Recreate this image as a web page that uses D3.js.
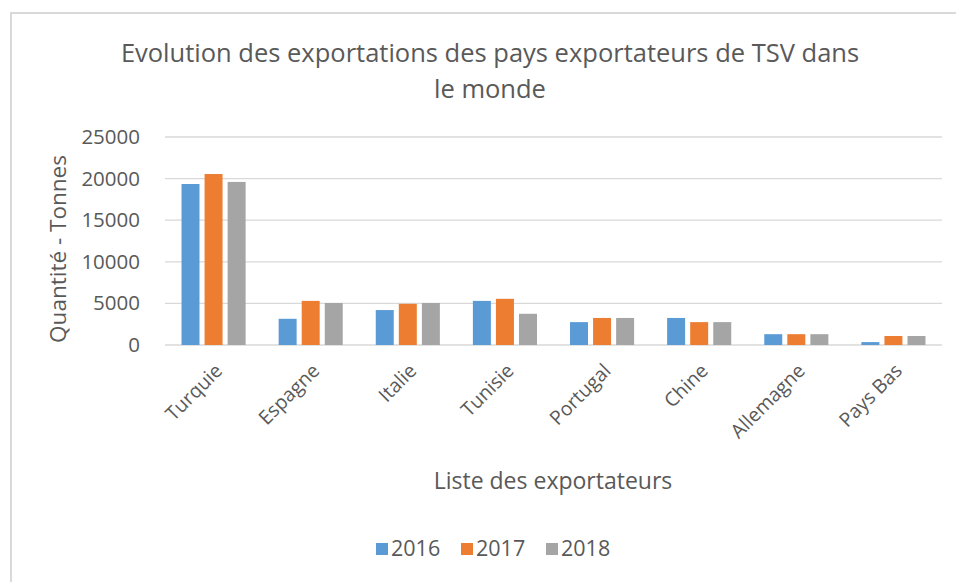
<!DOCTYPE html>
<html>
<head>
<meta charset="utf-8">
<script src="https://cdn.jsdelivr.net/npm/d3@7"></script>
<style>
  body { margin: 0; background: #fff; }
  text { font-family: "Open Sans", "Noto Sans", sans-serif; fill: #595959; }
</style>
</head>
<body>
<script>
// Chart data
const countries = ['Turquie', 'Espagne', 'Italie', 'Tunisie', 'Portugal', 'Chine', 'Allemagne', 'Pays Bas'];
const years = ['2016', '2017', '2018'];
const values2016 = [19350, 3150, 4200, 5300, 2750, 3250, 1300, 350];
const values2017 = [20550, 5300, 4950, 5550, 3250, 2750, 1300, 1080];
const values2018 = [19600, 5050, 5050, 3750, 3250, 2750, 1300, 1080];
const yTicks = [0, 5000, 10000, 15000, 20000, 25000];
const colors = ['#5b9bd5', '#ed7d31', '#a5a5a5'];

const series = [values2016, values2017, values2018];
const rows = countries.map((c, i) => ({
    country: c,
    vals: years.map((y, k) => ({ year: y, value: series[k][i] }))
}));

const W = 956, H = 582;
const margin = { top: 137, right: 14, bottom: 237, left: 165 };
const width = W - margin.left - margin.right;
const height = H - margin.top - margin.bottom;

const root = d3.select('body').append('svg')
    .attr('width', W)
    .attr('height', H);

// chart frame
root.append('rect')
    .attr('x', 11).attr('y', 13)
    .attr('width', W).attr('height', H)
    .attr('fill', 'none')
    .attr('stroke', '#d9d9d9')
    .attr('stroke-width', 2);

// Title
const title = root.append('text')
    .attr('text-anchor', 'middle')
    .attr('font-size', 25.5);
title.append('tspan').attr('x', 490).attr('y', 62)
    .text('Evolution des exportations des pays exportateurs de TSV dans');
title.append('tspan').attr('x', 490).attr('y', 98)
    .text('le monde');

const svg = root.append('g')
    .attr('transform', `translate(${margin.left},${margin.top})`);

// Scales
const x0 = d3.scaleBand()
    .domain(countries)
    .range([0, width])
    .paddingInner(0.34)
    .paddingOuter(0.17);

const x1 = d3.scaleBand()
    .domain(years)
    .range([0, x0.bandwidth()])
    .paddingInner(0.22);

const y = d3.scaleLinear()
    .domain([0, 25000])
    .range([height, 0]);

// Gridlines
svg.append('g')
    .selectAll('line')
    .data(yTicks)
    .enter().append('line')
    .attr('x1', 0).attr('x2', width)
    .attr('y1', d => y(d)).attr('y2', d => y(d))
    .attr('stroke', '#d9d9d9')
    .attr('stroke-width', 1.3);

// Y axis labels
const yAxis = svg.append('g')
    .call(d3.axisLeft(y).tickValues(yTicks).tickSize(0).tickPadding(25).tickFormat(d3.format('d')));
yAxis.select('.domain').remove();
yAxis.selectAll('text')
    .attr('font-size', 20.5)
    .style('font-family', '"Open Sans", sans-serif')
    .attr('fill', '#595959');

// Bars
const group = svg.selectAll('.group')
    .data(rows)
    .enter().append('g')
    .attr('class', 'group')
    .attr('transform', d => `translate(${x0(d.country)},0)`);

group.selectAll('rect')
    .data(d => d.vals)
    .enter().append('rect')
    .attr('x', d => x1(d.year))
    .attr('y', d => y(d.value))
    .attr('width', x1.bandwidth())
    .attr('height', d => height - y(d.value))
    .attr('fill', (d, i) => colors[i]);

// X axis labels (rotated)
const xAxis = svg.append('g')
    .attr('transform', `translate(0,${height})`)
    .call(d3.axisBottom(x0).tickSize(0).tickPadding(0));
xAxis.select('.domain').remove();
xAxis.selectAll('text')
    .attr('font-size', 19.5)
    .style('font-family', '"Open Sans", sans-serif')
    .attr('fill', '#595959')
    .attr('text-anchor', 'end')
    .attr('dy', 0)
    .attr('y', 0)
    .attr('transform', 'translate(10,27) rotate(-45)');

// Axis titles
root.append('text')
    .attr('transform', 'translate(66,249) rotate(-90)')
    .attr('text-anchor', 'middle')
    .attr('font-size', 22.5)
    .text('Quantité - Tonnes');

root.append('text')
    .attr('x', 553).attr('y', 489)
    .attr('text-anchor', 'middle')
    .attr('font-size', 23)
    .text('Liste des exportateurs');

// Legend
const legend = root.append('g')
    .attr('transform', 'translate(376,543)');
const item = legend.selectAll('g')
    .data(years)
    .enter().append('g')
    .attr('transform', (d, i) => `translate(${i * 85},0)`);
item.append('rect')
    .attr('width', 12).attr('height', 12)
    .attr('fill', (d, i) => colors[i]);
item.append('text')
    .attr('x', 15).attr('y', 13)
    .attr('font-size', 21.5)
    .text(d => d);
</script>
</body>
</html>
